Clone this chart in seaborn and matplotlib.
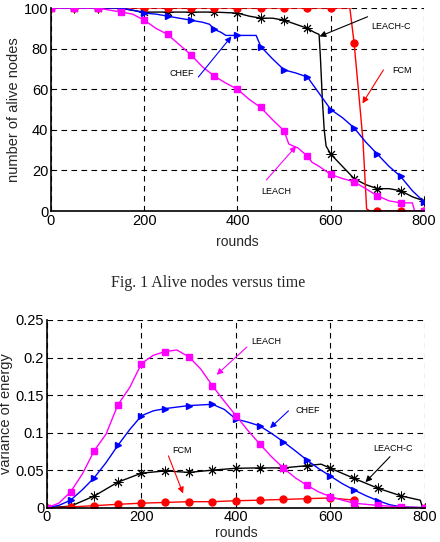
import numpy as np
import pandas as pd
import matplotlib
matplotlib.use("Agg")
import matplotlib.pyplot as plt
import seaborn as sns

# ---- top panel: number of alive nodes ----
fcm_alive_x = [0, 50, 100, 150, 200, 250, 300, 350, 400, 450, 500, 550, 600, 641, 650, 662, 669, 677, 685, 700, 750, 800]
fcm_alive_y = [100, 100, 100, 100, 100, 100, 100, 100, 100, 100, 100, 100, 100, 100, 83, 53, 35, 1, 0, 0, 0, 0]

leachc_alive_x = [0, 50, 100, 150, 170, 200, 250, 300, 350, 400, 425, 450, 475, 500, 525, 550, 565, 575,
                  578, 582, 586, 590, 600, 625, 650, 675, 700, 725, 750, 775, 800]
leachc_alive_y = [100, 100, 100, 100, 99, 98, 98, 98, 98, 97.5, 96, 95, 95, 94, 92, 90, 88, 87,
                  75, 55, 40, 32, 28, 22, 16, 13, 11, 11, 10, 7, 5]

chef_alive_x = [0, 50, 100, 150, 175, 200, 225, 250, 275, 300, 325, 340, 350, 365, 375, 400, 440, 450,
                475, 500, 525, 550, 575, 600, 625, 650, 675, 700, 725, 750, 775, 800]
chef_alive_y = [100, 100, 100, 100, 99, 97.5, 97, 96, 95, 94, 93, 92, 89.5, 88, 86.5, 86.5, 86.5, 81,
                75, 69.5, 68, 66, 58, 50, 46, 41, 34, 28, 22, 17, 10, 4.5]

leach_alive_x = [0, 50, 100, 125, 150, 175, 200, 225, 250, 275, 300, 325, 350, 375, 400, 425, 450, 475,
                 500, 510, 530, 550, 560, 575, 600, 625, 650, 675, 700, 725, 750, 775, 780, 800]
leach_alive_y = [100, 100, 100, 99, 98, 97, 94, 90, 87, 82, 77, 71, 66.5, 63, 60, 55, 51, 45,
                 39.5, 33, 31, 27, 24, 22, 18, 16, 14.4, 11, 7.5, 5, 4, 4, 0, 0]

# ---- bottom panel: variance of energy ----
leach_var_x = [0, 25, 50, 75, 100, 125, 150, 175, 200, 225, 250, 275, 300, 325, 350, 375, 400, 425,
               450, 475, 500, 525, 550, 575, 600, 625, 650, 700, 750, 800]
leach_var_y = [0, 0.006, 0.021, 0.045, 0.076, 0.098, 0.137, 0.16, 0.192, 0.203, 0.208, 0.21, 0.201,
               0.185, 0.1625, 0.142, 0.1225, 0.103, 0.085, 0.068, 0.053, 0.04, 0.030, 0.021, 0.0147,
               0.01, 0.006, 0.003, 0.001, 0]

chef_var_x = [0, 25, 50, 75, 100, 125, 150, 175, 200, 225, 250, 300, 350, 375, 400, 425, 450, 475,
              500, 525, 550, 575, 600, 625, 650, 675, 700, 725, 750, 800]
chef_var_y = [0, 0.003, 0.010, 0.024, 0.040, 0.060, 0.083, 0.104, 0.1225, 0.129, 0.132, 0.136, 0.1377,
              0.131, 0.118, 0.114, 0.109, 0.099, 0.088, 0.076, 0.0635, 0.052, 0.042, 0.032, 0.0236,
              0.016, 0.0094, 0.004, 0.001, 0]

leachc_var_x = [0, 50, 100, 150, 200, 250, 300, 350, 400, 450, 500, 550, 580, 600, 650, 700, 750, 790, 795, 800]
leachc_var_y = [0, 0.002, 0.0156, 0.034, 0.046, 0.049, 0.047, 0.050, 0.0525, 0.053, 0.053, 0.056,
                0.058, 0.0525, 0.039, 0.026, 0.0156, 0.010, 0, 0]

fcm_var_x = [0, 50, 100, 150, 200, 250, 300, 350, 400, 450, 500, 550, 600, 650, 660, 700, 750, 800]
fcm_var_y = [0, 0.001, 0.0027, 0.0045, 0.006, 0.007, 0.008, 0.008, 0.0093, 0.010, 0.011, 0.012,
             0.013, 0.010, 0, 0, 0, 0]

STYLE = {
    "LEACH-C": dict(color="black", marker=(8, 2, 0), ms=7, mew=0.7),
    "FCM": dict(color="#ff0000", marker="o", ms=5, mew=1),
    "CHEF": dict(color="#0000ff", marker=">", ms=5, mew=1),
    "LEACH": dict(color="#ff00ff", marker="s", ms=4.5, mew=1),
}

sns.set_theme(style="white")
plt.rcParams["font.family"] = ["Liberation Sans", "DejaVu Sans"]


def draw_series(ax, name, xs, ys):
    df = pd.DataFrame({"rounds": xs, "value": ys})
    st = STYLE[name]
    mask = [(x % 50 == 0) for x in xs]
    sns.lineplot(data=df, x="rounds", y="value", ax=ax, color=st["color"], linewidth=1,
                 marker=st["marker"], markersize=st["ms"], markevery=mask,
                 markeredgecolor=st["color"], markerfacecolor=st["color"],
                 markeredgewidth=st["mew"], sort=False, estimator=None)


def label_arrow(ax, text, pos, start, head, color):
    ax.text(pos[0], pos[1], text, ha="center", va="center", fontsize=6.5, color="black")
    ax.annotate("", xy=head, xytext=start,
                arrowprops=dict(arrowstyle="-|>", color=color, lw=0.8,
                                shrinkA=0, shrinkB=0, mutation_scale=9))


def style_axes(ax, ymax, yticks, yticklabels, ylabel, xpad):
    ax.set_xlim(0, 800)
    ax.set_ylim(0, ymax)
    ax.set_xticks([0, 200, 400, 600, 800])
    ax.set_yticks(yticks)
    ax.set_yticklabels(yticklabels)
    ax.grid(True, color="black", linestyle=(0, (5, 4)), linewidth=0.8)
    ax.set_axisbelow(True)
    for side in ["top", "right"]:
        ax.spines[side].set_visible(False)
    for side in ["left", "bottom"]:
        ax.spines[side].set_color("black")
        ax.spines[side].set_linewidth(1.2)
    ax.tick_params(direction="in", length=3, labelsize=10.5, colors="black", pad=2)
    ax.set_xlabel("rounds", fontsize=10, labelpad=xpad)
    ax.set_ylabel(ylabel, fontsize=10.5, labelpad=2)


fig = plt.figure(figsize=(4.4, 5.42), dpi=100)

ax1 = fig.add_axes([0.1159, 0.6107, 0.8477, 0.3745])
draw_series(ax1, "LEACH-C", leachc_alive_x, leachc_alive_y)
draw_series(ax1, "FCM", fcm_alive_x, fcm_alive_y)
draw_series(ax1, "CHEF", chef_alive_x, chef_alive_y)
draw_series(ax1, "LEACH", leach_alive_x, leach_alive_y)
style_axes(ax1, 100, [0, 20, 40, 60, 80, 100], ["0", "20", "40", "60", "80", "100"],
           "number of alive nodes", 5)

label_arrow(ax1, "LEACH-C", (730, 91), (679, 95.7), (576, 86), "black")
label_arrow(ax1, "FCM", (752, 69), (713, 69.5), (668, 53), "#ff0000")
label_arrow(ax1, "LEACH", (484, 9.5), (462, 15.3), (526, 32), "#ff00ff")
label_arrow(ax1, "CHEF", (280, 67.5), (316, 66), (387, 86), "#0000ff")

fig.text(0.473, 0.478, "Fig. 1 Alive nodes versus time", ha="center", va="center",
         fontsize=11.5, family=["Liberation Serif", "DejaVu Serif"])

ax2 = fig.add_axes([0.1068, 0.0633, 0.8591, 0.3463])
draw_series(ax2, "LEACH-C", leachc_var_x, leachc_var_y)
draw_series(ax2, "FCM", fcm_var_x, fcm_var_y)
draw_series(ax2, "CHEF", chef_var_x, chef_var_y)
draw_series(ax2, "LEACH", leach_var_x, leach_var_y)
style_axes(ax2, 0.25, [0, 0.05, 0.1, 0.15, 0.2, 0.25], ["0", "0.05", "0.1", "0.15", "0.2", "0.25"],
           "variance of energy", 1)

label_arrow(ax2, "LEACH", (465, 0.221), (423, 0.214), (359, 0.177), "#ff00ff")
label_arrow(ax2, "CHEF", (551, 0.129), (511, 0.129), (472, 0.106), "#0000ff")
label_arrow(ax2, "LEACH-C", (732, 0.079), (726, 0.068), (674, 0.034), "black")
label_arrow(ax2, "FCM", (285, 0.076), (257, 0.069), (288, 0.019), "#ff0000")

fig.savefig("out.png", dpi=100)
